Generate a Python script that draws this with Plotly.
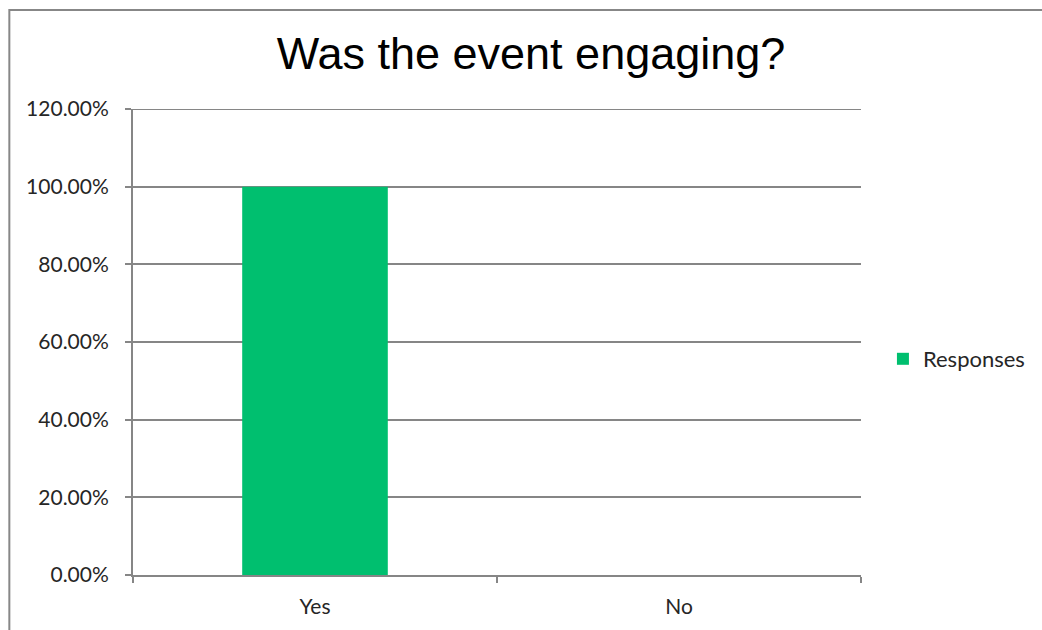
import plotly.graph_objects as go

categories = ["Yes", "No"]
responses = [1.0, 0.0]
series_name = "Responses"
title_text = "Was the event engaging?"
y_ticks = [0, 0.2, 0.4, 0.6, 0.8, 1.0, 1.2]
y_tick_labels = ["0.00%", "20.00%", "40.00%", "60.00%", "80.00%", "100.00%", "120.00%"]

W, H = 1042, 630
L, R, T, B = 133, 863, 109, 575
pw, ph = R - L, B - T

def px(x):
    return (x - L) / pw

def py(y):
    return (B - y) / ph

font = "Lato, 'Open Sans', sans-serif"
title_font = "'Liberation Sans', Arial, sans-serif"
grid = "#868686"
text_col = "#262626"

fig = go.Figure()
fig.add_trace(go.Bar(x=categories, y=responses, name=series_name,
                     marker=dict(color="#00BF6F", line=dict(width=0)),
                     showlegend=True))

fig.update_layout(
    width=W, height=H,
    margin=dict(l=L, r=W - R, t=T, b=H - B, pad=0),
    paper_bgcolor="white", plot_bgcolor="white",
    bargap=0.6,
    title=dict(text=title_text, x=531 / W, xref="container", xanchor="center",
               y=1 - 53 / H, yref="container", yanchor="middle",
               font=dict(family=title_font, size=45, color="black")),
    font=dict(family=font, size=21, color=text_col),
    showlegend=True,
    legend=dict(x=px(885), y=py(359), xanchor="left", yanchor="middle",
                font=dict(size=22, color=text_col), itemwidth=30,
                bgcolor="rgba(0,0,0,0)"),
    xaxis=dict(showgrid=False, showline=True, linecolor=grid, linewidth=2,
               ticks="outside", tickson="boundaries", ticklen=6, tickwidth=2,
               tickcolor=grid, tickfont=dict(size=21, color=text_col),
               ticklabelstandoff=12, fixedrange=True),
    yaxis=dict(range=[0, 1.2], tickvals=y_ticks, ticktext=y_tick_labels,
               showgrid=True, gridcolor=grid, gridwidth=2,
               showline=True, linecolor=grid, linewidth=2,
               ticks="outside", ticklen=6, tickwidth=2, tickcolor=grid,
               tickfont=dict(size=21, color=text_col),
               ticklabelstandoff=12, zeroline=False, fixedrange=True),
    shapes=[
        dict(type="rect", xref="paper", yref="paper",
             x0=px(9), x1=px(1060), y0=py(660), y1=py(10),
             line=dict(color="#878787", width=2), fillcolor="rgba(0,0,0,0)",
             layer="below"),
        dict(type="line", xref="paper", yref="y",
             x0=0, x1=1, y0=y_ticks[-1], y1=y_ticks[-1],
             line=dict(color=grid, width=2), layer="below"),
    ],
)

fig.write_html("out.html")
